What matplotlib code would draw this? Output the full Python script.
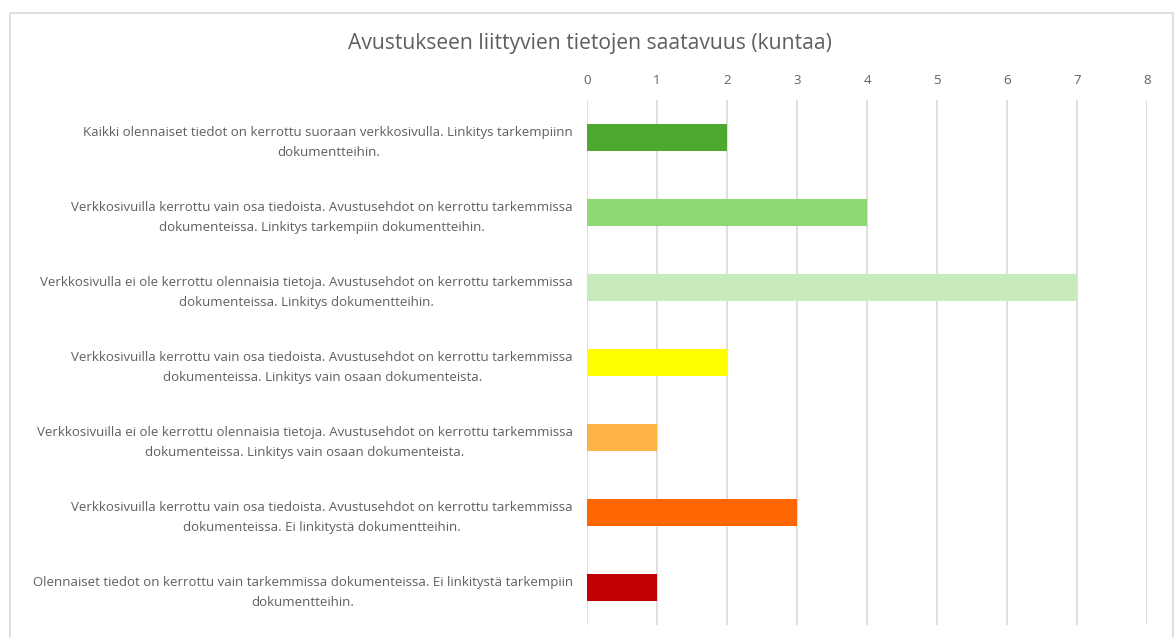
import matplotlib.pyplot as plt
from matplotlib.patches import Rectangle

TITLE = "Avustukseen liittyvien tietojen saatavuus (kuntaa)"
CATEGORIES = [
    "Kaikki olennaiset tiedot on kerrottu suoraan verkkosivulla. Linkitys tarkempiinn\ndokumentteihin.",
    "Verkkosivuilla kerrottu vain osa tiedoista. Avustusehdot on kerrottu tarkemmissa\ndokumenteissa. Linkitys tarkempiin dokumentteihin.",
    "Verkkosivulla ei ole kerrottu olennaisia tietoja. Avustusehdot on kerrottu tarkemmissa\ndokumenteissa. Linkitys dokumentteihin.",
    "Verkkosivuilla kerrottu vain osa tiedoista. Avustusehdot on kerrottu tarkemmissa\ndokumenteissa. Linkitys vain osaan dokumenteista.",
    "Verkkosivuilla ei ole kerrottu olennaisia tietoja. Avustusehdot on kerrottu tarkemmissa\ndokumenteissa. Linkitys vain osaan dokumenteista.",
    "Verkkosivuilla kerrottu vain osa tiedoista. Avustusehdot on kerrottu tarkemmissa\ndokumenteissa. Ei linkitystä dokumentteihin.",
    "Olennaiset tiedot on kerrottu vain tarkemmissa dokumenteissa. Ei linkitystä tarkempiin\ndokumentteihin.",
]
VALUES = [2, 4, 7, 2, 1, 3, 1]
COLORS = ["#4EA72E", "#8ED973", "#C8EBBE", "#FFFF00", "#FFB347", "#FF6600", "#C00000"]
XTICKS = list(range(0, 9))

TEXT = "#5F5F5F"
GRID = "#D9D9D9"

plt.rcParams["font.family"] = ["Open Sans", "DejaVu Sans"]

fig = plt.figure(figsize=(11.76, 6.37), dpi=100)
# chart frame, cut off at the bottom edge like the screenshot
fig.patches.append(Rectangle((10 / 1176, -0.05), 1163 / 1176, 1.05 - 13 / 637,
                             transform=fig.transFigure, fill=False,
                             edgecolor="#D9D9D9", linewidth=1.2))

ax = fig.add_axes([587 / 1176, 12 / 637, 560 / 1176, 525 / 637])
y = list(range(len(CATEGORIES)))
ax.barh(y, VALUES, height=0.35, color=COLORS, zorder=2)

ax.set_xlim(0, 8)
ax.set_ylim(len(CATEGORIES) - 0.5, -0.5)
ax.set_xticks(XTICKS)
ax.xaxis.tick_top()
ax.tick_params(axis="x", length=0, pad=9, labelsize=9.5, labelcolor=TEXT)
ax.tick_params(axis="y", length=0, pad=10, labelsize=9.5, labelcolor=TEXT)
ax.set_yticks(y)
ax.set_yticklabels(CATEGORIES)
for lbl in ax.get_yticklabels():
    lbl.set_multialignment("center")
    lbl.set_linespacing(1.7)

ax.grid(axis="x", color=GRID, linewidth=1.2, zorder=0)
for s in ax.spines.values():
    s.set_visible(False)

fig.text(590 / 1176, 1 - 43 / 637, TITLE, ha="center", va="center",
         fontsize=15.2, color=TEXT)

fig.savefig("out.png", dpi=100)
